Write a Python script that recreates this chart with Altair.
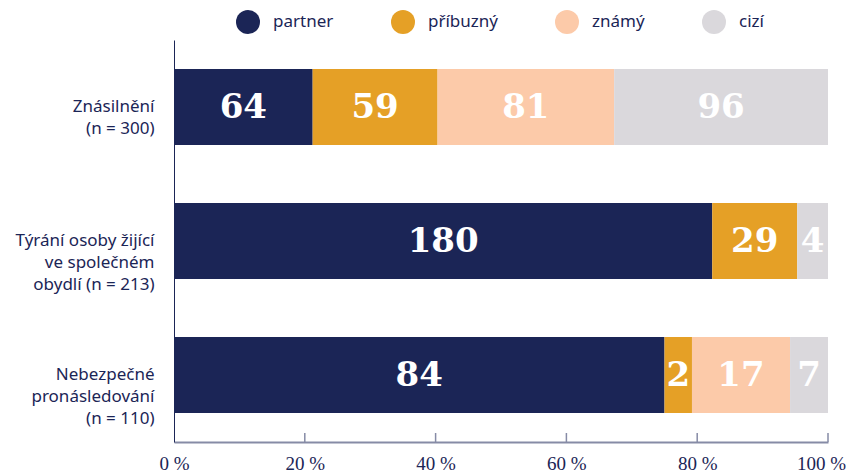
import altair as alt
import pandas as pd

categories = ["Znásilnění|(n = 300)",
              "Týrání osoby žijící|ve společném|obydlí (n = 213)",
              "Nebezpečné|pronásledování|(n = 110)"]
groups = ["partner", "příbuzný", "známý", "cizí"]
# counts shown in the bars
partner = [64, 180, 84]
pribuzny = [59, 29, 2]
znamy = [81, 0, 17]
cizi = [96, 4, 7]
# segment widths (% of bar) as drawn in the picture
partner_pct = [21.2, 82.3, 75.0]
pribuzny_pct = [19.1, 13.0, 4.2]
znamy_pct = [27.0, 0.0, 15.0]
cizi_pct = [32.7, 4.7, 5.8]
colors = ["#1b2556", "#e5a026", "#fccaa9", "#dad8dc"]
tick_values = [0, 20, 40, 60, 80, 100]

series = [partner, pribuzny, znamy, cizi]
shares = [partner_pct, pribuzny_pct, znamy_pct, cizi_pct]
rows = []
for i, cat in enumerate(categories):
    total = sum(s[i] for s in shares)
    cum = 0.0
    for k, g in enumerate(groups):
        w = shares[k][i]
        start = 100 * cum / total
        cum += w
        end = 100 * cum / total
        rows.append({"cat": cat, "group": g, "value": series[k][i], "start": start,
                     "end": end, "mid": (start + end) / 2, "order": k})
df = pd.DataFrame(rows)
ticks_df = pd.DataFrame({"t": tick_values[1:]})

NAVY = "#1b2556"
AXIS = "#868ba6"

x_scale = alt.Scale(domain=[0, 100], nice=False, zero=True)
y_scale = alt.Scale(domain=categories, paddingInner=0.433, paddingOuter=0.2165)

bars = alt.Chart(df).mark_bar(cornerRadius=0).encode(
    x=alt.X("start:Q", scale=x_scale,
            axis=alt.Axis(values=tick_values, title=None, grid=False, ticks=False,
                          labelExpr="datum.value + ' %'",
                          labelFont="Liberation Serif", labelFontSize=19,
                          labelColor=NAVY, labelPadding=12,
                          labelOffset={"condition": {"test": "datum.value === 100", "value": -7},
                                       "value": 0},
                          domainColor=AXIS, domainWidth=2, labelFlush=False)),
    x2="end:Q",
    y=alt.Y("cat:N", scale=y_scale, sort=categories,
            axis=alt.Axis(title=None, ticks=False, domainColor=NAVY, domainWidth=1,
                          labelExpr="split(datum.label, '|')",
                          labelFont="Noto Sans", labelFontSize=17, labelColor=NAVY,
                          labelLineHeight=22, labelPadding=20, labelAlign="right")),
    color=alt.Color("group:N", scale=alt.Scale(domain=groups, range=colors),
                    legend=alt.Legend(title=None, orient="none", direction="horizontal",
                                      legendX=62, legendY=-30, padding=0,
                                      symbolType="circle",
                                      symbolSize=576, symbolStrokeWidth=0,
                                      labelFont="Noto Sans", labelFontSize=17,
                                      labelColor=NAVY, labelOffset=13,
                                      columnPadding=57)),
    order=alt.Order("order:Q"),
)

labels = alt.Chart(df[df["value"] > 0]).mark_text(
    font="DejaVu Serif", fontWeight="bold", fontSize=34, color="white",
    baseline="middle", align="center", dy=1
).encode(
    x=alt.X("mid:Q", scale=x_scale),
    y=alt.Y("cat:N", scale=y_scale, sort=categories),
    text=alt.Text("value:Q"),
)

tick_rules = alt.Chart(ticks_df).mark_rule(color=AXIS, strokeWidth=1.5).encode(
    x=alt.X("t:Q", scale=x_scale),
    y=alt.value(393),
    y2=alt.value(402),
)

chart = alt.layer(bars, labels, tick_rules).properties(
    width=654, height=402,
    autosize=alt.AutoSizeParams(type="none"),
    padding={"left": 166, "top": 32, "right": 18, "bottom": 31},
).configure_view(stroke=None)

chart.save("out.html", embed_options={"renderer": "svg", "actions": False})
